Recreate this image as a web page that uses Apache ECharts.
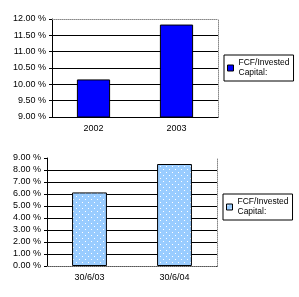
<!DOCTYPE html>
<html>
<head>
<meta charset="utf-8">
<script src="https://cdn.jsdelivr.net/npm/echarts@6/dist/echarts.min.js"></script>
<style>
  html, body { margin: 0; padding: 0; background: #fff; }
  #chart { width: 299px; height: 297px; }
</style>
</head>
<body>
<div id="chart"></div>
<script>
const topCats = ['2002', '2003']
const topValues = [10.15, 11.83]
const bottomCats = ['30/6/03', '30/6/04']
const bottomValues = [6.13, 8.50]
const seriesName = 'FCF/Invested\nCapital:'

// dotted light blue fill
function makeDots() {
  let c = document.createElement('canvas')
  c.width = 6
  c.height = 6
  let ctx = c.getContext('2d')
  ctx.fillStyle = '#99CCFF'
  ctx.fillRect(0, 0, 6, 6)
  ctx.fillStyle = '#ffffff'
  ctx.fillRect(1, 1, 1, 1)
  ctx.fillRect(4, 4, 1, 1)
  return c
}
const dots = { image: makeDots(), repeat: 'repeat' }

const font = { fontFamily: 'Liberation Sans', fontSize: 9, color: '#000' }
const legendFont = { fontFamily: 'Liberation Sans', fontSize: 8.5, color: '#000', lineHeight: 10 }
const pct = v => v.toFixed(2) + ' %'
const gray = { color: '#888', type: 'dotted', width: 1 }
// square sitting on the first text line
const legendIcon = 'path://M0,0L7,0L7,7L0,7Z'

function splitColors(n) {
  let arr = []
  for (let i = 0; i < n - 1; i++) arr.push('#000')
  arr.push('rgba(0,0,0,0)')
  return arr
}

let chart = echarts.init(document.getElementById('chart'))
chart.setOption({
  animation: false,
  grid: [
    { left: 52, top: 19, width: 166, height: 98 },
    { left: 47, top: 158, width: 170, height: 108 }
  ],
  legend: [
    {
      left: 224, top: 55,
      data: [{ name: seriesName, icon: legendIcon, itemStyle: { color: '#0000FF', borderColor: '#000', borderWidth: 1 } }],
      itemWidth: 6, itemHeight: 6, itemGap: 2,
      borderColor: '#000', borderWidth: 1, padding: [3, 4, 3, 3],
      textStyle: legendFont
    },
    {
      left: 223, top: 194,
      data: [{ name: seriesName + ' ', icon: legendIcon, itemStyle: { color: dots, borderColor: '#000', borderWidth: 1 } }],
      itemWidth: 6, itemHeight: 6, itemGap: 2,
      borderColor: '#000', borderWidth: 1, padding: [3, 4, 3, 3],
      textStyle: legendFont
    }
  ],
  xAxis: [
    {
      type: 'category', gridIndex: 0, data: topCats,
      axisLine: { lineStyle: { color: '#000' } },
      axisTick: { length: 4, lineStyle: { color: '#000' } },
      axisLabel: Object.assign({ margin: 7 }, font)
    },
    {
      type: 'category', gridIndex: 0, data: topCats, position: 'top',
      axisLine: { lineStyle: gray }, axisTick: { show: false }, axisLabel: { show: false }
    },
    {
      type: 'category', gridIndex: 1, data: bottomCats,
      axisLine: { lineStyle: { color: '#000' } },
      axisTick: { length: 4, lineStyle: { color: '#000' } },
      axisLabel: Object.assign({ margin: 7 }, font)
    },
    {
      type: 'category', gridIndex: 1, data: bottomCats, position: 'top',
      axisLine: { lineStyle: gray }, axisTick: { show: false }, axisLabel: { show: false }
    }
  ],
  yAxis: [
    {
      type: 'value', gridIndex: 0, min: 9, max: 12, interval: 0.5,
      axisLine: { show: true, lineStyle: { color: '#000' } },
      axisTick: { show: true, length: 3, lineStyle: { color: '#000' } },
      splitLine: { lineStyle: { color: splitColors(7) } },
      axisLabel: Object.assign({ formatter: pct, margin: 6 }, font)
    },
    {
      type: 'value', gridIndex: 0, min: 9, max: 12, position: 'right',
      axisLine: { show: true, lineStyle: gray }, axisTick: { show: false },
      axisLabel: { show: false }, splitLine: { show: false }
    },
    {
      type: 'value', gridIndex: 1, min: 0, max: 9, interval: 1,
      axisLine: { show: true, lineStyle: { color: '#000' } },
      axisTick: { show: true, length: 3, lineStyle: { color: '#000' } },
      splitLine: { lineStyle: { color: splitColors(10) } },
      axisLabel: Object.assign({ formatter: pct, margin: 6 }, font)
    },
    {
      type: 'value', gridIndex: 1, min: 0, max: 9, position: 'right',
      axisLine: { show: true, lineStyle: gray }, axisTick: { show: false },
      axisLabel: { show: false }, splitLine: { show: false }
    }
  ],
  series: [
    {
      name: seriesName, type: 'bar', xAxisIndex: 0, yAxisIndex: 0,
      data: topValues, barWidth: '40%',
      itemStyle: { color: '#0000FF', borderColor: '#000', borderWidth: 1 }
    },
    {
      name: seriesName + ' ', type: 'bar', xAxisIndex: 2, yAxisIndex: 2,
      data: bottomValues, barWidth: '41%',
      itemStyle: { color: dots, borderColor: '#000', borderWidth: 1 }
    }
  ]
})
</script>
</body>
</html>
